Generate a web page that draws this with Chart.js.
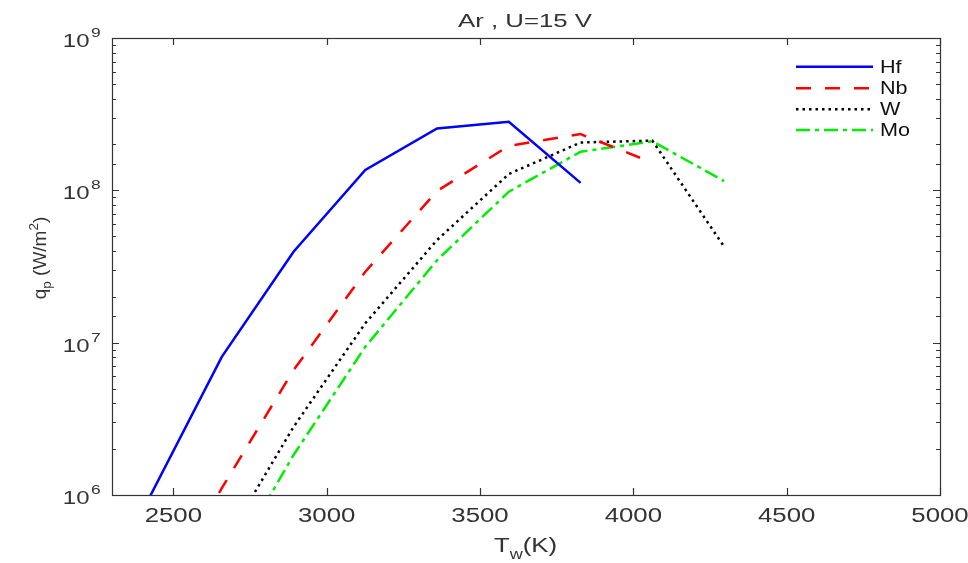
<!DOCTYPE html>
<html>
<head>
<meta charset="utf-8">
<script src="https://cdn.jsdelivr.net/npm/chart.js@4/dist/chart.umd.min.js"></script>
<style>
  body { margin: 0; background: #fff; }
  #wrap { width: 968px; height: 563px; }
</style>
</head>
<body>
<div id="wrap"><canvas id="qpChart"></canvas></div>
<script>
// wall temperature, K
var temps = [2424, 2658, 2892, 3126, 3360, 3594, 3828, 4062, 4296];
// q_p in W/m^2 for each cathode material
var hfVals = [0.98e6, 8.07e6, 3.95e7, 1.36e8, 2.55e8, 2.82e8, 1.12e8, null, null];
var nbVals = [1.5e5, 1.11e6, 6.6e6, 2.92e7, 9.9e7, 1.96e8, 2.34e8, 1.52e8, null];
var wVals  = [null, 4.5e5, 2.8e6, 1.34e7, 4.72e7, 1.28e8, 2.06e8, 2.12e8, 4.27e7];
var moVals = [null, 2.8e5, 1.83e6, 9.4e6, 3.48e7, 9.8e7, 1.79e8, 2.10e8, 1.15e8];

var xTicks = [2500, 3000, 3500, 4000, 4500, 5000];

var FONT = "'Liberation Sans', Arial, sans-serif";
var INK = '#333333';
var SX = 1.29;   // the figure text is a bit wide

function toPoints(vals) {
    var pts = [];
    for (let i = 0; i < temps.length; i++) {
        if (vals[i] !== null) pts.push({x: temps[i], y: vals[i]});
    }
    return pts;
}

function series(label, vals, color, dash) {
    return {
        label: label,
        data: toPoints(vals),
        borderColor: color,
        backgroundColor: color,
        borderWidth: 2.5,
        borderDash: dash,
        pointRadius: 0,
        tension: 0,
        fill: false
    };
}

// draw text squeezed/stretched horizontally around its anchor
function wideText(ctx, str, x, y, size, align, sx) {
    ctx.save();
    ctx.translate(x, y);
    ctx.scale(sx, 1);
    ctx.font = size + 'px ' + FONT;
    ctx.textAlign = align;
    ctx.fillText(str, 0, 0);
    ctx.restore();
}

function textW(ctx, str, size) {
    ctx.font = size + 'px ' + FONT;
    return ctx.measureText(str).width;
}

// box, inward ticks on all four sides, labels, titles and legend like matlab
var matlabLook = {
    id: 'matlabLook',
    afterDatasetsDraw(chart) {
        const ctx = chart.ctx;
        const a = chart.chartArea;
        const xs = chart.scales.x, ys = chart.scales.y;
        ctx.save();
        ctx.strokeStyle = INK;
        ctx.lineWidth = 1.2;
        ctx.setLineDash([]);
        ctx.strokeRect(Math.round(a.left) + 0.5, Math.round(a.top) + 0.5,
            Math.round(a.right - a.left), Math.round(a.bottom - a.top));
        ctx.beginPath();
        xs.ticks.forEach(t => {
            const px = Math.round(xs.getPixelForValue(t.value)) + 0.5;
            ctx.moveTo(px, a.bottom); ctx.lineTo(px, a.bottom - 7);
            ctx.moveTo(px, a.top); ctx.lineTo(px, a.top + 7);
        });
        ys.ticks.forEach(t => {
            const py = Math.round(ys.getPixelForValue(t.value)) + 0.5;
            const m = t.value / Math.pow(10, Math.floor(Math.log10(t.value) + 1e-9));
            const len = Math.abs(m - 1) < 1e-6 ? 7 : 4;
            ctx.moveTo(a.left, py); ctx.lineTo(a.left + len, py);
            ctx.moveTo(a.right, py); ctx.lineTo(a.right - len, py);
        });
        ctx.stroke();
        ctx.restore();
    },
    afterDraw(chart) {
        const ctx = chart.ctx;
        const a = chart.chartArea;
        const xs = chart.scales.x, ys = chart.scales.y;
        const cx = (a.left + a.right) / 2;
        ctx.save();
        ctx.fillStyle = INK;
        ctx.textBaseline = 'alphabetic';

        // x tick labels
        xs.ticks.forEach(t => {
            wideText(ctx, String(t.value), xs.getPixelForValue(t.value), a.bottom + 27, 20, 'center', SX);
        });

        // y tick labels, 10^n for the decades only
        ys.ticks.forEach(t => {
            const e = Math.round(Math.log10(t.value));
            if (Math.abs(t.value - Math.pow(10, e)) > 1e-6 * t.value) return;
            const py = ys.getPixelForValue(t.value);
            wideText(ctx, '10', a.left - 22.5, py + 9, 18.6, 'right', SX);
            wideText(ctx, String(e), a.left - 21, py - 1, 13.5, 'left', SX);
        });

        // title
        const title = 'Ar , U=15 V';
        const tw = textW(ctx, title, 18);
        wideText(ctx, title, 525, 26.5, 18, 'center', 134 / tw);

        // x label  T_w(K)
        const wT = textW(ctx, 'T', 20) * SX;
        const wW = textW(ctx, 'w', 14) * SX;
        const wK = textW(ctx, '(K)', 20) * SX;
        const x0 = 525.5 - (wT + wW + wK) / 2;
        wideText(ctx, 'T', x0, 552, 20, 'left', SX);
        wideText(ctx, 'w', x0 + wT, 559, 14, 'left', SX);
        wideText(ctx, '(K)', x0 + wT + wW, 552, 20, 'left', SX);

        // y label  q_p (W/m^2), rotated
        ctx.save();
        ctx.translate(46, 258);
        ctx.rotate(-Math.PI / 2);
        const parts = [
            ['q', 19, 0], ['p', 13.5, 5], [' (W/m', 19, 0], ['2', 13.5, -8], [')', 19, 0]
        ];
        let total = 0;
        parts.forEach(p => { total += textW(ctx, p[0], p[1]); });
        let px = -total / 2;
        ctx.textAlign = 'left';
        parts.forEach(p => {
            ctx.font = p[1] + 'px ' + FONT;
            ctx.fillText(p[0], px, p[2]);
            px += ctx.measureText(p[0]).width;
        });
        ctx.restore();
        ctx.restore();

        // legend (no box)
        ctx.save();
        const rows = [66.7, 88.3, 109.3, 130];
        chart.data.datasets.forEach((ds, i) => {
            ctx.strokeStyle = ds.borderColor;
            ctx.lineWidth = 2.5;
            ctx.setLineDash(ds.borderDash || []);
            ctx.beginPath();
            ctx.moveTo(796, rows[i]);
            ctx.lineTo(873, rows[i]);
            ctx.stroke();
            ctx.setLineDash([]);
            ctx.fillStyle = '#111';
            ctx.textBaseline = 'middle';
            wideText(ctx, ds.label, 880, rows[i] + 1, 18, 'left', 1.2);
        });
        ctx.restore();
    }
};

var ctx = document.getElementById('qpChart');
var chart = new Chart(ctx, {
    type: 'line',
    data: {
        datasets: [
            series('Hf', hfVals, '#0000ff', []),
            series('Nb', nbVals, '#ff0000', [15, 14]),
            series('W', wVals, '#000000', [2.5, 4]),
            series('Mo', moVals, '#00ee00', [14, 5, 4, 5])
        ]
    },
    options: {
        responsive: true,
        maintainAspectRatio: false,
        animation: false,
        layout: { padding: { top: 38, right: 28, left: 0, bottom: 0 } },
        plugins: {
            legend: { display: false },
            title: { display: false },
            tooltip: { enabled: false }
        },
        scales: {
            x: {
                type: 'linear',
                min: 2300,
                max: 5000,
                grid: { display: false, drawTicks: false },
                border: { display: false },
                afterBuildTicks: (scale) => {
                    scale.ticks = xTicks.map(v => ({value: v}));
                },
                afterFit: (scale) => { scale.height = 68; },
                ticks: { display: false }
            },
            y: {
                type: 'logarithmic',
                min: 1e6,
                max: 1e9,
                grid: { display: false, drawTicks: false },
                border: { display: false },
                afterFit: (scale) => { scale.width = 112; },
                ticks: { display: false, autoSkip: false }
            }
        }
    },
    plugins: [matlabLook]
});
</script>
</body>
</html>
